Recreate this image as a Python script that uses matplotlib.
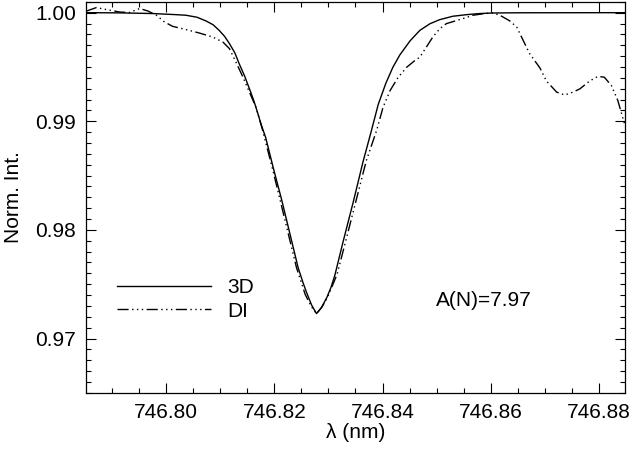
import numpy as np
import matplotlib
matplotlib.use("Agg")
import matplotlib.pyplot as plt
from matplotlib.ticker import MultipleLocator, FormatStrFormatter

plt.rcParams['font.family'] = ['Liberation Sans', 'DejaVu Sans']

# ------------------------------------------------------------
# 3D synthetic profile (solid)
# ------------------------------------------------------------
wav_3d = [746.7852, 746.7915, 746.7975, 746.8017, 746.8037, 746.8057,
          746.8074, 746.8087, 746.8098, 746.8108, 746.8117, 746.8127,
          746.8135, 746.8145, 746.8154, 746.8162, 746.8169, 746.8176,
          746.8184, 746.8198, 746.8214, 746.8229, 746.8244, 746.8253,
          746.8260, 746.8269, 746.8278, 746.8287, 746.8297, 746.8305,
          746.8312, 746.8327, 746.8346, 746.8364, 746.8379, 746.8392,
          746.8406, 746.8419, 746.8432, 746.8451, 746.8469, 746.8488,
          746.8506, 746.8530, 746.8556, 746.8580, 746.8604, 746.8654,
          746.8849]
int_3d = [1.00000, 0.99998, 0.99992, 0.99982, 0.99976, 0.99958,
          0.99923, 0.99888, 0.99837, 0.99782, 0.99715, 0.99630,
          0.99530, 0.99417, 0.99299, 0.99191, 0.99080, 0.98965,
          0.98850, 0.98572, 0.98268, 0.97960, 0.97652, 0.97515,
          0.97418, 0.97307, 0.97229, 0.97284, 0.97377, 0.97474,
          0.97585, 0.97889, 0.98259, 0.98628, 0.98905, 0.99154,
          0.99348, 0.99496, 0.99611, 0.99741, 0.99837, 0.99899,
          0.99936, 0.99967, 0.99982, 0.99992, 0.99997, 0.99999,
          1.00000]

# ------------------------------------------------------------
# DI profile (dash-dot-dot-dot)
# ------------------------------------------------------------
wav_di = [746.7852, 746.7871, 746.7889, 746.7914, 746.7932, 746.7951,
          746.7966, 746.7982, 746.7997, 746.8012, 746.8037, 746.8061,
          746.8086, 746.8105, 746.8117, 746.8129, 746.8142, 746.8154,
          746.8166, 746.8177, 746.8196, 746.8211, 746.8226, 746.8241,
          746.8257, 746.8268, 746.8278, 746.8288, 746.8298, 746.8316,
          746.8332, 746.8351, 746.8370, 746.8389, 746.8401, 746.8414,
          746.8429, 746.8445, 746.8460, 746.8469, 746.8481, 746.8493,
          746.8506, 746.8518, 746.8534, 746.8549, 746.8567, 746.8589,
          746.8604, 746.8617, 746.8635, 746.8648, 746.8660, 746.8672,
          746.8691, 746.8703, 746.8722, 746.8737, 746.8752, 746.8765,
          746.8783, 746.8798, 746.8810, 746.8823, 746.8835, 746.8844,
          746.8849]
int_di = [1.00013, 1.00047, 1.00029, 1.00006, 1.00001, 1.00038,
          1.00016, 0.99976, 0.99914, 0.99874, 0.99844, 0.99813,
          0.99776, 0.99729, 0.99669, 0.99545, 0.99406, 0.99268,
          0.99129, 0.98942, 0.98575, 0.98268, 0.97960, 0.97652,
          0.97406, 0.97297, 0.97229, 0.97290, 0.97375, 0.97591,
          0.97898, 0.98268, 0.98637, 0.98914, 0.99129, 0.99283,
          0.99406, 0.99499, 0.99560, 0.99591, 0.99683, 0.99776,
          0.99853, 0.99899, 0.99923, 0.99946, 0.99976, 0.99992,
          0.99997, 0.99976, 0.99925, 0.99868, 0.99745, 0.99622,
          0.99491, 0.99371, 0.99268, 0.99242, 0.99268, 0.99299,
          0.99371, 0.99413, 0.99406, 0.99330, 0.99191, 0.99034,
          0.98951]

labels = ["3D", "DI"]
abund_text = "A(N)=7.97"

fs = 15
fig = plt.figure(figsize=(6.33, 4.51), dpi=100)
ax = fig.add_axes([0.136, 0.129, 0.852, 0.867])

# dash + three dots, IDL style
ddd = (0, (8, 2.5, 1, 2.5, 1, 2.5, 1, 2.5))
ax.plot(wav_3d, int_3d, color='black', lw=1.0, label=labels[0])
ax.plot(wav_di, int_di, color='black', lw=1.0, linestyle=ddd, label=labels[1])

ax.set_xlim(746.7852, 746.8849)
ax.set_ylim(0.965, 1.001)

ax.xaxis.set_major_locator(MultipleLocator(0.02))
ax.xaxis.set_minor_locator(MultipleLocator(0.005))
ax.yaxis.set_major_locator(MultipleLocator(0.01))
ax.yaxis.set_minor_locator(MultipleLocator(0.001))
ax.xaxis.set_major_formatter(FormatStrFormatter('%.2f'))
ax.yaxis.set_major_formatter(FormatStrFormatter('%.2f'))

ax.tick_params(which='both', direction='in', top=True, right=True,
               labelsize=fs, width=0.8)
ax.tick_params(which='major', length=7.2, pad=7)
ax.tick_params(which='minor', length=3.6)
for sp in ax.spines.values():
    sp.set_linewidth(0.9)

ax.set_xlabel("λ (nm)", fontsize=fs, labelpad=1)
ax.set_ylabel("Norm. Int.", fontsize=fs, labelpad=9)

ax.legend(loc='center left', bbox_to_anchor=(0.0575, 0.239), frameon=False,
          fontsize=fs, handlelength=4.5, handletextpad=0.77,
          labelspacing=0.23, borderpad=0, borderaxespad=0)

ax.text(746.8499, 0.97354, abund_text, fontsize=fs, ha='left', va='center')

fig.savefig("out.png", dpi=100)
